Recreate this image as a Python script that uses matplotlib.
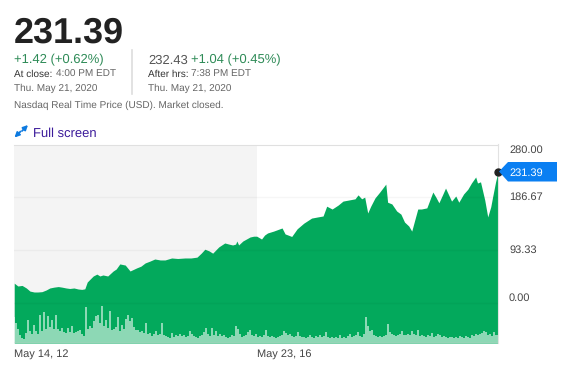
import numpy as np
import matplotlib
matplotlib.use('Agg')
import matplotlib.pyplot as plt
from matplotlib.patches import Polygon

W, H = 568, 372

years = [2012.37, 2012.43, 2012.50, 2012.57, 2012.63, 2012.70, 2012.76, 2012.83, 2012.90, 2012.96,
         2013.03, 2013.10, 2013.16, 2013.23, 2013.29, 2013.36, 2013.43, 2013.49, 2013.54, 2013.58,
         2013.63, 2013.68, 2013.74, 2013.79, 2013.84, 2013.92, 2014.01, 2014.06, 2014.12, 2014.21,
         2014.29, 2014.40, 2014.47, 2014.54, 2014.62, 2014.70, 2014.79, 2014.87, 2014.98, 2015.08,
         2015.20, 2015.30, 2015.40, 2015.47, 2015.53, 2015.60, 2015.66, 2015.76, 2015.86, 2015.93,
         2015.99, 2016.04, 2016.06, 2016.09, 2016.16, 2016.28, 2016.34, 2016.39, 2016.47, 2016.52,
         2016.57, 2016.67, 2016.81, 2016.86, 2016.91, 2016.97, 2017.06, 2017.17, 2017.30, 2017.40,
         2017.49, 2017.55, 2017.64, 2017.74, 2017.82, 2017.92, 2018.02, 2018.07, 2018.13, 2018.18,
         2018.23, 2018.28, 2018.35, 2018.43, 2018.53, 2018.56, 2018.63, 2018.71, 2018.78, 2018.84,
         2018.91, 2018.96, 2019.01, 2019.06, 2019.12, 2019.21, 2019.31, 2019.36, 2019.41, 2019.47,
         2019.52, 2019.62, 2019.69, 2019.74, 2019.82, 2019.89, 2019.95, 2020.02, 2020.05, 2020.10,
         2020.17, 2020.22, 2020.27, 2020.30, 2020.35, 2020.39]
prices = [35, 30, 31, 26.5, 21, 19.4, 19.4, 20, 23, 26.5,
          28, 29, 28, 26.5, 25.6, 26.5, 24.7, 24, 25, 37,
          42.4, 47.7, 51, 47.7, 49.5, 47.7, 56.5, 60, 69, 67,
          56.5, 62, 65, 70.7, 74, 77.7, 76, 76, 79.5, 78.6,
          79.5, 79.5, 81, 88, 95, 92, 88, 99, 106, 104,
          102.5, 104, 109.5, 102.5, 109.5, 116.6, 118, 118, 113, 120,
          123.7, 127, 132.5, 122, 120, 117.5, 131, 141, 150, 152,
          153.7, 171, 166, 173, 180, 182, 184, 191, 184, 187,
          159, 171, 185.5, 196, 210, 178, 175, 162.5, 157, 143,
          136, 127, 146.6, 166, 166, 168, 196, 187, 177, 191,
          203, 180, 189, 178, 192.6, 201, 212, 222.6, 212, 214,
          182, 152, 170, 187, 214, 231.39]

volumes = [26, 20, 14, 8, 5, 4, 10, 23, 12, 9, 18, 12, 9, 28, 12, 31, 14, 27, 16, 23,
           14, 28, 14, 12, 15, 11, 10, 15, 11, 17, 10, 11, 12, 13, 9, 7, 36, 14, 17, 15,
           22, 27, 28, 20, 37, 17, 23, 15, 32, 13, 14, 16, 26, 12, 18, 14, 24, 28, 22, 25,
           16, 13, 13, 11, 12, 10, 20, 9, 10, 7, 9, 12, 8, 9, 20, 8, 7, 6, 5, 10,
           6, 8, 7, 9, 7, 8, 6, 7, 12, 9, 7, 6, 5, 7, 8, 11, 15, 9, 7, 15,
           8, 12, 7, 9, 7, 8, 6, 5, 6, 8, 7, 17, 14, 9, 6, 7, 8, 11, 13, 8,
           7, 9, 6, 7, 6, 8, 13, 7, 6, 7, 6, 5, 6, 7, 8, 12, 10, 8, 9, 7,
           6, 7, 11, 7, 6, 6, 5, 6, 8, 6, 5, 7, 6, 8, 6, 7, 11, 6, 5, 6,
           5, 6, 5, 8, 5, 6, 5, 7, 9, 6, 7, 8, 11, 7, 6, 9, 26, 17, 12, 13,
           8, 7, 6, 7, 6, 7, 8, 19, 11, 9, 8, 7, 8, 9, 12, 8, 8, 9, 8, 12,
           9, 8, 13, 7, 8, 7, 6, 8, 7, 10, 6, 7, 9, 8, 6, 7, 6, 5, 6, 6,
           5, 6, 5, 7, 6, 5, 7, 6, 5, 8, 7, 9, 8, 9, 10, 12, 11, 8, 9, 7,
           11, 8, 8]

price_ticks = [0.00, 93.33, 186.67, 280.00]
tick_text = {280.00: 149, 186.67: 196, 93.33: 249, 0.00: 297}

plt.rcParams['font.family'] = ['Liberation Sans', 'DejaVu Sans']
plt.rcParams['text.hinting'] = 'no_hinting'
plt.rcParams['text.hinting_factor'] = 1

GREEN = '#03a95c'
TEXT_GREEN = '#2e8b57'
GREY = '#666666'


def px(size):
    return size * 72 / 100


fig = plt.figure(figsize=(W / 100, H / 100), dpi=100)


def put(x, y, s, size, color='#333333', **kw):
    # x, y in picture pixels, y is the middle of the digits, set on the baseline
    return fig.text(x / W, 1 - (y + 0.36 * size) / H, s, fontsize=px(size), color=color, va='baseline', **kw)


ax = fig.add_axes([14 / W, 1 - 343 / H, 484 / W, 198.5 / H])
ax.set_xlim(2012.366, 2020.39)
ax.set_ylim(-70.7, 280)
ax.axvspan(2012.366, 2016.39, color='#f4f4f4', lw=0, zorder=0)
ax.fill_between(years, prices, -70.7, color=GREEN, lw=0, zorder=2)
ax.plot([years[-1]], [prices[-1]], 'o', color='#222222', ms=5, clip_on=False, zorder=6)
ax.set_yticks(price_ticks)
ax.set_yticklabels([])
ax.set_xticks([])
ax.tick_params(length=0)
ax.grid(axis='y', color='black', alpha=0.035, lw=1, zorder=3)
ax.set_axisbelow(False)
for side in ['left', 'bottom']:
    ax.spines[side].set_visible(False)
ax.spines['top'].set_color('#e2e2e2')
ax.spines['right'].set_color('#e2e2e2')

# volume shares the x axis, scaled to its own range
vol = ax.twinx()
vol.set_ylim(0, 198.5)
vol.set_yticks([])
vol.patch.set_visible(False)
for side in vol.spines:
    vol.spines[side].set_visible(False)
vol_x = np.linspace(2012.366, 2020.39, len(volumes))
vol.bar(vol_x, volumes, width=vol_x[1] - vol_x[0], color='white', alpha=0.55, lw=0)
vol.axhline(0.3, color='#c4c4c4', lw=1)

# header block
put(14, 30, '231.39', 36, '#222222', fontweight='bold')
put(14, 59, '+1.42 (+0.62%)', 13.3, TEXT_GREEN)
put(14, 73, 'At close:', 10, '#333333')
put(56, 73.8, '4:00 PM EDT', 10, GREY)
put(14, 87.5, 'Thu. May 21, 2020', 10, GREY)
fig.add_artist(plt.Line2D([131.5 / W, 131.5 / W], [1 - 50 / H, 1 - 94 / H], color='#dddddd', lw=1.2))
put(148, 59, '232.43', 13.3, '#555555')
put(191, 59, '+1.04 (+0.45%)', 13.3, TEXT_GREEN)
put(148, 73, 'After hrs:', 10, '#333333')
put(191, 73.8, '7:38 PM EDT', 10, GREY)
put(148, 87.5, 'Thu. May 21, 2020', 10, GREY)
put(14, 104.5, 'Nasdaq Real Time Price (USD). Market closed.', 9.9, GREY)
put(33, 132.5, 'Full screen', 13, '#3b1a9a')

# full screen icon
for start, end in [((20.5, 131.5), (14.5, 137.5)), ((22, 131), (28, 125))]:
    fig.add_artist(plt.Annotation('', xy=(end[0] / W, 1 - end[1] / H), xytext=(start[0] / W, 1 - start[1] / H),
                                  xycoords='figure fraction', textcoords='figure fraction',
                                  arrowprops=dict(arrowstyle='-|>', color='#0d7ae0', lw=1.3, mutation_scale=7,
                                                  shrinkA=0, shrinkB=0)))

# axis labels
put(14, 353, 'May 14, 12', 11, '#444444')
put(257, 353, 'May 23, 16', 11, '#444444')
for value in price_ticks:
    put(509, tick_text[value], '%.2f' % value, 11, '#444444')

# last price flag
flag = [(499, 171.5), (508, 162), (557, 162), (557, 181.5), (508, 181.5)]
fig.add_artist(Polygon([(x / W, 1 - y / H) for x, y in flag], closed=True, transform=fig.transFigure,
                       facecolor='#0a7ff2', edgecolor='none'))
put(509, 171.5, '231.39', 11, 'white')

fig.savefig('out.png', dpi=100)
